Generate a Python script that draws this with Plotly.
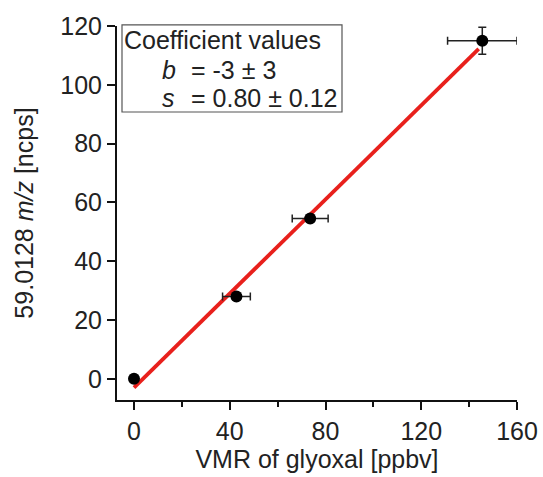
import plotly.graph_objects as go

vmr = [0, 42.8, 73.6, 145.5]
signal = [0, 28, 54.5, 115]
vmr_err = [0, 5.8, 7.5, 14.5]
signal_err = [0, 0, 0, 4.6]
fit_b = -3
fit_s = 0.80
fit_x = [0, 144]
fit_y = [fit_b + fit_s * x for x in fit_x]

fig = go.Figure()
fig.add_trace(go.Scatter(x=fit_x, y=fit_y, mode="lines",
                         line=dict(color="#e8201c", width=3.8), showlegend=False))
fig.add_trace(go.Scatter(x=vmr, y=signal, mode="markers",
                         marker=dict(color="black", size=12),
                         error_x=dict(type="data", array=vmr_err, color="#222", thickness=1.5, width=4),
                         error_y=dict(type="data", array=signal_err, color="#222", thickness=1.5, width=4),
                         showlegend=False))

font = dict(family="Liberation Sans, Arial, sans-serif", size=25, color="#222")
fig.update_layout(
    width=543, height=477,
    margin=dict(l=117, r=26, t=26, b=77),
    paper_bgcolor="white", plot_bgcolor="white",
    font=font,
    xaxis=dict(range=[-7.1, 160], tickvals=[0, 40, 80, 120, 160], ticks="outside", ticklen=8,
               tickwidth=2, tickcolor="#111", showline=True, linecolor="#111", linewidth=2,
               showgrid=False, zeroline=False, tickfont=dict(size=25), automargin=False,
               minor=dict(tickvals=[20, 60, 100, 140], ticks="outside", ticklen=5, tickwidth=2, tickcolor="#111"),
               title=dict(text="VMR of glyoxal [ppbv]", standoff=0, font=dict(size=25))),
    yaxis=dict(range=[-7.2, 120], tickvals=[0, 20, 40, 60, 80, 100, 120], ticks="outside", ticklen=8,
               tickwidth=2, tickcolor="#111", showline=True, linecolor="#111", linewidth=2,
               showgrid=False, zeroline=False, tickfont=dict(size=25), automargin=False,
               title=dict(text="59.0128 <i>m/z</i> [ncps]", standoff=20, font=dict(size=25))),
)

fig.add_shape(type="rect", xref="paper", yref="paper", x0=0.0125, x1=0.5625, y0=0.77, y1=1.003,
              line=dict(color="#555", width=1.2), fillcolor="white", layer="below")

def ann(x, y, text):
    fig.add_annotation(x=x, y=y, xref="paper", yref="paper", text=text, showarrow=False,
                       xanchor="left", yanchor="middle", font=dict(size=25, color="#222"))

ann(0.012, 0.962, "Coefficient values")
ann(0.108, 0.882, "<i>b</i>")
ann(0.18, 0.882, "= -3 ± 3")
ann(0.108, 0.807, "<i>s</i>")
ann(0.18, 0.807, "= 0.80 ± 0.12")

fig.write_html("out.html")
